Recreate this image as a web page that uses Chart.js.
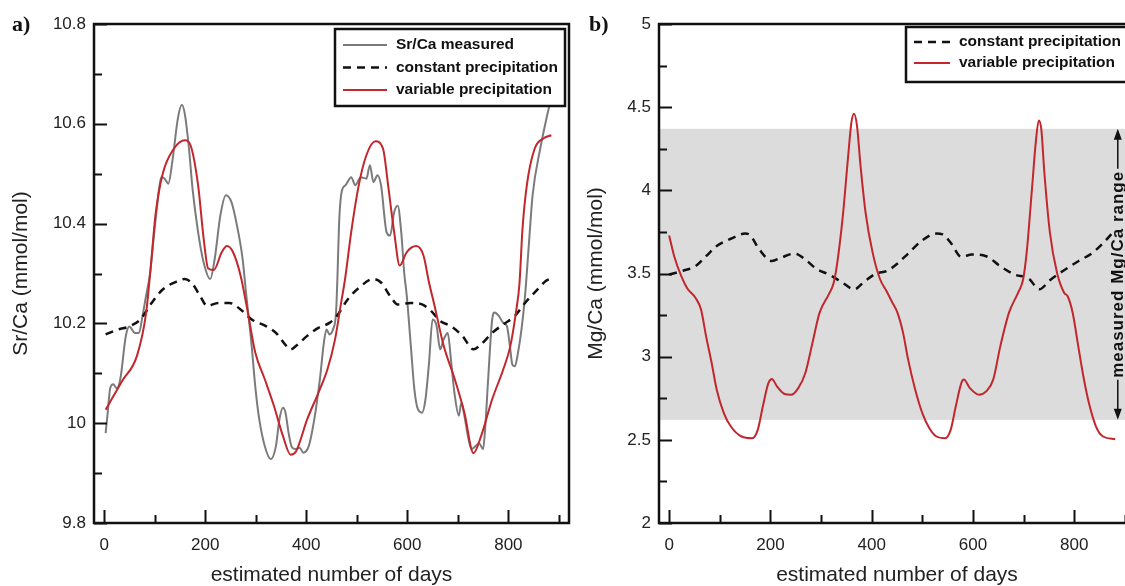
<!DOCTYPE html>
<html>
<head>
<meta charset="utf-8">
<script src="https://cdn.jsdelivr.net/npm/chart.js@4.4.1/dist/chart.umd.min.js"></script>
<style>
html, body { margin: 0; padding: 0; background: #fff; width: 1125px; height: 586px; overflow: hidden; }
.wrap { position: absolute; top: 0; width: 575px; height: 586px; }
#wrapA { left: 0; }
#wrapB { left: 575px; }
.panelLabel { position: absolute; top: 13px; font: bold 22px "Liberation Serif", serif; line-height: 22px; color: #111; }
</style>
</head>
<body>
<div class="wrap" id="wrapA"><canvas id="chartA" width="575" height="586"></canvas></div>
<div class="wrap" id="wrapB"><canvas id="chartB" width="575" height="586"></canvas></div>
<div class="panelLabel" style="left:12px">a)</div>
<div class="panelLabel" style="left:589px">b)</div>
<script>
// ---- panel a: Sr/Ca ----
const srMeasuredDays = [3, 7, 12, 18, 25, 32, 43, 50, 61, 69, 76, 83, 91, 98, 105, 113, 120, 127, 135, 146, 154, 160, 168, 175, 186, 197, 210, 219, 230, 241, 252, 263, 274, 281, 292, 299, 307, 318, 330, 340, 347, 354, 359, 365, 372, 380, 387, 394, 405, 416, 427, 435, 440, 446, 453, 459, 462, 465, 470, 478, 489, 497, 508, 519, 526, 533, 541, 548, 559, 566, 574, 581, 588, 594, 599, 607, 614, 621, 629, 636, 643, 650, 658, 665, 672, 680, 687, 694, 702, 707, 713, 720, 727, 735, 742, 750, 754, 760, 768, 773, 781, 790, 797, 803, 808, 813, 818, 826, 833, 840, 848, 863, 877, 883]
const srMeasured = [9.98, 10.02, 10.07, 10.078, 10.07, 10.088, 10.175, 10.194, 10.181, 10.181, 10.215, 10.255, 10.30, 10.37, 10.436, 10.493, 10.49, 10.48, 10.524, 10.611, 10.638, 10.618, 10.55, 10.47, 10.383, 10.322, 10.289, 10.33, 10.416, 10.457, 10.443, 10.396, 10.33, 10.26, 10.155, 10.075, 10.008, 9.954, 9.928, 9.954, 10.008, 10.031, 10.021, 9.981, 9.951, 9.948, 9.951, 9.941, 9.954, 10.008, 10.088, 10.162, 10.188, 10.178, 10.188, 10.222, 10.30, 10.40, 10.463, 10.477, 10.493, 10.477, 10.493, 10.49, 10.517, 10.483, 10.497, 10.477, 10.383, 10.376, 10.423, 10.436, 10.383, 10.30, 10.255, 10.155, 10.068, 10.028, 10.021, 10.048, 10.121, 10.208, 10.195, 10.148, 10.168, 10.181, 10.121, 10.055, 10.015, 10.041, 10.015, 9.974, 9.948, 9.954, 9.96, 9.948, 9.988, 10.088, 10.208, 10.222, 10.215, 10.201, 10.195, 10.155, 10.117, 10.114, 10.135, 10.188, 10.255, 10.35, 10.457, 10.55, 10.618, 10.644]

const srConstDays = [3, 29, 50, 72, 94, 116, 146, 160, 175, 190, 204, 226, 248, 270, 292, 321, 340, 358, 369, 380, 402, 424, 446, 460, 482, 504, 533, 548, 566, 581, 607, 629, 647, 665, 687, 709, 731, 746, 768, 790, 812, 833, 855, 874, 884]
const srConst = [10.178, 10.188, 10.194, 10.208, 10.241, 10.268, 10.285, 10.289, 10.279, 10.255, 10.235, 10.241, 10.241, 10.228, 10.208, 10.194, 10.181, 10.158, 10.148, 10.155, 10.175, 10.191, 10.201, 10.214, 10.248, 10.271, 10.289, 10.282, 10.255, 10.238, 10.241, 10.238, 10.225, 10.205, 10.194, 10.175, 10.148, 10.158, 10.181, 10.198, 10.214, 10.241, 10.265, 10.285, 10.29]

const srVarDays = [3, 36, 65, 83, 92, 102, 116, 138, 160, 171, 186, 197, 206, 217, 233, 243, 255, 270, 283, 299, 318, 336, 354, 369, 380, 402, 424, 442, 457, 468, 477, 489, 504, 519, 537, 552, 562, 574, 585, 599, 618, 632, 643, 654, 672, 694, 713, 731, 746, 768, 790, 804, 815, 822, 828, 837, 852, 870, 885]
const srVar = [10.027, 10.085, 10.135, 10.22, 10.31, 10.42, 10.50, 10.55, 10.567, 10.557, 10.477, 10.37, 10.31, 10.307, 10.343, 10.355, 10.343, 10.296, 10.23, 10.142, 10.088, 10.035, 9.974, 9.937, 9.944, 10.008, 10.061, 10.108, 10.168, 10.235, 10.29, 10.383, 10.477, 10.537, 10.565, 10.55, 10.477, 10.383, 10.316, 10.343, 10.355, 10.336, 10.282, 10.235, 10.155, 10.088, 10.021, 9.94, 9.974, 10.048, 10.108, 10.155, 10.222, 10.28, 10.39, 10.48, 10.55, 10.571, 10.577]

// ---- panel b: Mg/Ca ----
const mgConstDays = [0, 24, 52, 73, 94, 122, 150, 160, 178, 203, 220, 248, 269, 290, 318, 340, 366, 385, 409, 430, 451, 472, 500, 528, 540, 556, 577, 598, 626, 654, 682, 710, 731, 752, 780, 808, 836, 864, 881]
const mgConst = [3.494, 3.514, 3.544, 3.604, 3.665, 3.709, 3.74, 3.73, 3.645, 3.575, 3.594, 3.62, 3.584, 3.53, 3.49, 3.45, 3.405, 3.45, 3.5, 3.515, 3.56, 3.62, 3.70, 3.74, 3.735, 3.685, 3.60, 3.614, 3.604, 3.544, 3.494, 3.47, 3.405, 3.46, 3.52, 3.574, 3.624, 3.705, 3.765]

const mgVarDays = [0, 10, 24, 36, 52, 63, 73, 84, 94, 108, 122, 143, 164, 175, 185, 196, 203, 213, 227, 241, 255, 269, 283, 297, 315, 325, 332, 343, 353, 360, 365, 371, 378, 388, 402, 416, 430, 440, 451, 462, 472, 486, 500, 514, 528, 545, 556, 566, 577, 582, 594, 612, 626, 640, 654, 671, 689, 699, 706, 717, 724, 730, 735, 741, 752, 766, 780, 787, 797, 808, 818, 829, 843, 857, 881]
const mgVar = [3.729, 3.604, 3.484, 3.41, 3.354, 3.283, 3.122, 2.962, 2.801, 2.661, 2.58, 2.52, 2.51, 2.56, 2.70, 2.841, 2.866, 2.821, 2.777, 2.771, 2.811, 2.902, 3.082, 3.263, 3.373, 3.444, 3.564, 3.845, 4.187, 4.408, 4.46, 4.387, 4.147, 3.865, 3.624, 3.47, 3.39, 3.33, 3.263, 3.143, 2.982, 2.801, 2.661, 2.57, 2.52, 2.51, 2.56, 2.70, 2.841, 2.862, 2.811, 2.771, 2.791, 2.862, 3.062, 3.263, 3.384, 3.464, 3.624, 4.026, 4.287, 4.42, 4.367, 4.107, 3.745, 3.504, 3.384, 3.363, 3.263, 3.062, 2.882, 2.721, 2.58, 2.52, 2.504]

const mgMeasuredRange = [2.62, 4.37]

// ---- axes ----
const dayLabelTicks = [0, 200, 400, 600, 800]
const dayTickMarks = [0, 100, 200, 300, 400, 500, 600, 700, 800, 900]
const srTickMarks = [9.8, 9.9, 10, 10.1, 10.2, 10.3, 10.4, 10.5, 10.6, 10.7, 10.8]
const srLabelTicks = [9.8, 10, 10.2, 10.4, 10.6, 10.8]
const mgTickMarks = [2, 2.25, 2.5, 2.75, 3, 3.25, 3.5, 3.75, 4, 4.25, 4.5, 4.75, 5]
const mgLabelTicks = [2, 2.5, 3, 3.5, 4, 4.5, 5]

const FONT = '"Liberation Sans", Arial, sans-serif'
const RED = '#c1272d'
const GREY = '#7b7b7b'
const BLACK = '#111'

Chart.defaults.font.family = FONT
Chart.defaults.color = '#222'

function line(label, days, values, color, width, dash, order) {
    return {
        label: label,
        data: days.map((d, i) => ({ x: d, y: values[i] })),
        borderColor: color,
        borderWidth: width,
        borderDash: dash,
        showLine: true,
        pointRadius: 0,
        fill: false,
        cubicInterpolationMode: 'monotone',
        order: order
    }
}

function near(a, b) { return Math.abs(a - b) < 1e-6 }

// frame, inward tick marks, legend box, band and annotation
const decorPlugin = {
    id: 'decor',
    beforeDatasetsDraw(chart, args, opts) {
        if (!opts.band) return
        const { ctx, chartArea, scales } = chart
        const yTop = scales.y.getPixelForValue(opts.band[1])
        const yBot = scales.y.getPixelForValue(opts.band[0])
        ctx.save()
        ctx.fillStyle = '#dcdcdc'
        ctx.fillRect(chartArea.left, yTop, chartArea.right - chartArea.left, yBot - yTop)
        ctx.restore()
    },
    afterDraw(chart, args, opts) {
        const { ctx, chartArea, scales } = chart
        const { left, right, top, bottom } = chartArea
        ctx.save()
        ctx.strokeStyle = BLACK
        ctx.lineWidth = 2
        ctx.beginPath()
        dayTickMarks.forEach(d => {
            const x = Math.round(scales.x.getPixelForValue(d)) + 0.5
            const len = dayLabelTicks.includes(d) ? 13 : 8
            ctx.moveTo(x, bottom); ctx.lineTo(x, bottom - len)
        })
        opts.yMarks.forEach(v => {
            const y = Math.round(scales.y.getPixelForValue(v)) + 0.5
            const len = opts.yLabels.some(l => near(l, v)) ? 13 : 8
            ctx.moveTo(left, y); ctx.lineTo(left + len, y)
        })
        ctx.stroke()
        ctx.lineWidth = 2.5
        ctx.strokeRect(left, top, right - left, bottom - top)

        // legend
        const lg = opts.legend
        ctx.lineWidth = 2.5
        ctx.strokeStyle = BLACK
        ctx.fillStyle = '#fff'
        ctx.fillRect(lg.x, lg.y, lg.w, lg.h)
        ctx.strokeRect(lg.x, lg.y, lg.w, lg.h)
        ctx.font = 'bold 15.5px ' + FONT
        ctx.textBaseline = 'middle'
        ctx.textAlign = 'left'
        chart.data.datasets.slice().sort((a, b) => a.legendIndex - b.legendIndex).forEach((ds, i) => {
            const y = lg.y + lg.row0 + i * lg.rowStep
            ctx.beginPath()
            ctx.strokeStyle = ds.borderColor
            ctx.lineWidth = ds.borderWidth
            ctx.setLineDash(ds.borderDash || [])
            ctx.moveTo(lg.x + 8, y); ctx.lineTo(lg.x + lg.sample, y)
            ctx.stroke()
            ctx.setLineDash([])
            ctx.fillStyle = BLACK
            ctx.fillText(ds.label, lg.x + lg.sample + 9, y)
        })

        // measured range annotation
        if (opts.band) {
            const x = scales.x.getPixelForValue(opts.annotX)
            const yTop = scales.y.getPixelForValue(opts.band[1])
            const yBot = scales.y.getPixelForValue(opts.band[0])
            const yMid = (yTop + yBot) / 2
            const txt = 'measured Mg/Ca range'
            ctx.font = 'bold 17px ' + FONT
            ctx.letterSpacing = '1px'
            const half = ctx.measureText(txt).width / 2 + 2
            ctx.strokeStyle = BLACK
            ctx.fillStyle = BLACK
            ctx.lineWidth = 1.5
            ctx.beginPath()
            ctx.moveTo(x, yTop + 8); ctx.lineTo(x, yMid - half)
            ctx.moveTo(x, yMid + half); ctx.lineTo(x, yBot - 8)
            ctx.stroke()
            ctx.beginPath()
            ctx.moveTo(x, yTop); ctx.lineTo(x - 4, yTop + 11); ctx.lineTo(x + 4, yTop + 11); ctx.closePath()
            ctx.moveTo(x, yBot); ctx.lineTo(x - 4, yBot - 11); ctx.lineTo(x + 4, yBot - 11); ctx.closePath()
            ctx.fill()
            ctx.translate(x, yMid)
            ctx.rotate(-Math.PI / 2)
            ctx.textAlign = 'center'
            ctx.textBaseline = 'middle'
            ctx.fillText(txt, 0, 1)
        }
        ctx.restore()
    }
}

function xScale() {
    return {
        type: 'linear', min: -20, max: 920,
        afterBuildTicks: s => { s.ticks = dayLabelTicks.map(v => ({ value: v })) },
        afterFit: s => { s.height = 63 },
        grid: { display: false, drawTicks: false },
        border: { display: false },
        ticks: { padding: 12, font: { size: 17 }, color: '#222', callback: v => String(v) },
        title: { display: true, text: 'estimated number of days', font: { size: 21 }, color: '#222', padding: { top: 0, bottom: -2 } }
    }
}

function yScale(min, max, labels, title, width) {
    return {
        type: 'linear', min: min, max: max,
        afterBuildTicks: s => { s.ticks = labels.map(v => ({ value: v })) },
        afterFit: s => { s.width = width },
        grid: { display: false, drawTicks: false },
        border: { display: false },
        ticks: { padding: 8, font: { size: 17 }, color: '#222', callback: v => String(Math.round(v * 100) / 100) },
        title: { display: true, text: title, font: { size: 21 }, color: '#222', padding: { top: 9, bottom: 0 } }
    }
}

const measuredA = line('Sr/Ca measured', srMeasuredDays, srMeasured, GREY, 2, [], 2)
measuredA.legendIndex = 0
const constA = line('constant precipitation', srConstDays, srConst, BLACK, 2.5, [8, 6], 1)
constA.legendIndex = 1
const varA = line('variable precipitation', srVarDays, srVar, RED, 2, [], 0)
varA.legendIndex = 2

new Chart(document.getElementById('chartA'), {
    type: 'scatter',
    data: { datasets: [measuredA, constA, varA] },
    options: {
        responsive: false,
        animation: false,
        layout: { padding: { left: 0, top: 24, right: 6, bottom: 0 } },
        scales: { x: xScale(), y: yScale(9.8, 10.8, srLabelTicks, 'Sr/Ca (mmol/mol)', 94) },
        plugins: {
            legend: { display: false },
            tooltip: { enabled: false },
            decor: {
                yMarks: srTickMarks, yLabels: srLabelTicks,
                legend: { x: 335, y: 29, w: 230, h: 77, row0: 16, rowStep: 22.5, sample: 52 }
            }
        }
    },
    plugins: [decorPlugin]
})

const constB = line('constant precipitation', mgConstDays, mgConst, BLACK, 2.5, [8, 6], 1)
constB.legendIndex = 0
const varB = line('variable precipitation', mgVarDays, mgVar, RED, 2, [], 0)
varB.legendIndex = 1

new Chart(document.getElementById('chartB'), {
    type: 'scatter',
    data: { datasets: [constB, varB] },
    options: {
        responsive: false,
        animation: false,
        layout: { padding: { left: 0, top: 24, right: 15, bottom: 0 } },
        scales: { x: xScale(), y: yScale(2, 5, mgLabelTicks, 'Mg/Ca (mmol/mol)', 84) },
        plugins: {
            legend: { display: false },
            tooltip: { enabled: false },
            decor: {
                yMarks: mgTickMarks, yLabels: mgLabelTicks,
                band: mgMeasuredRange, annotX: 886,
                legend: { x: 331, y: 27, w: 240, h: 55, row0: 15, rowStep: 21, sample: 44 }
            }
        }
    },
    plugins: [decorPlugin]
})
</script>
</body>
</html>
